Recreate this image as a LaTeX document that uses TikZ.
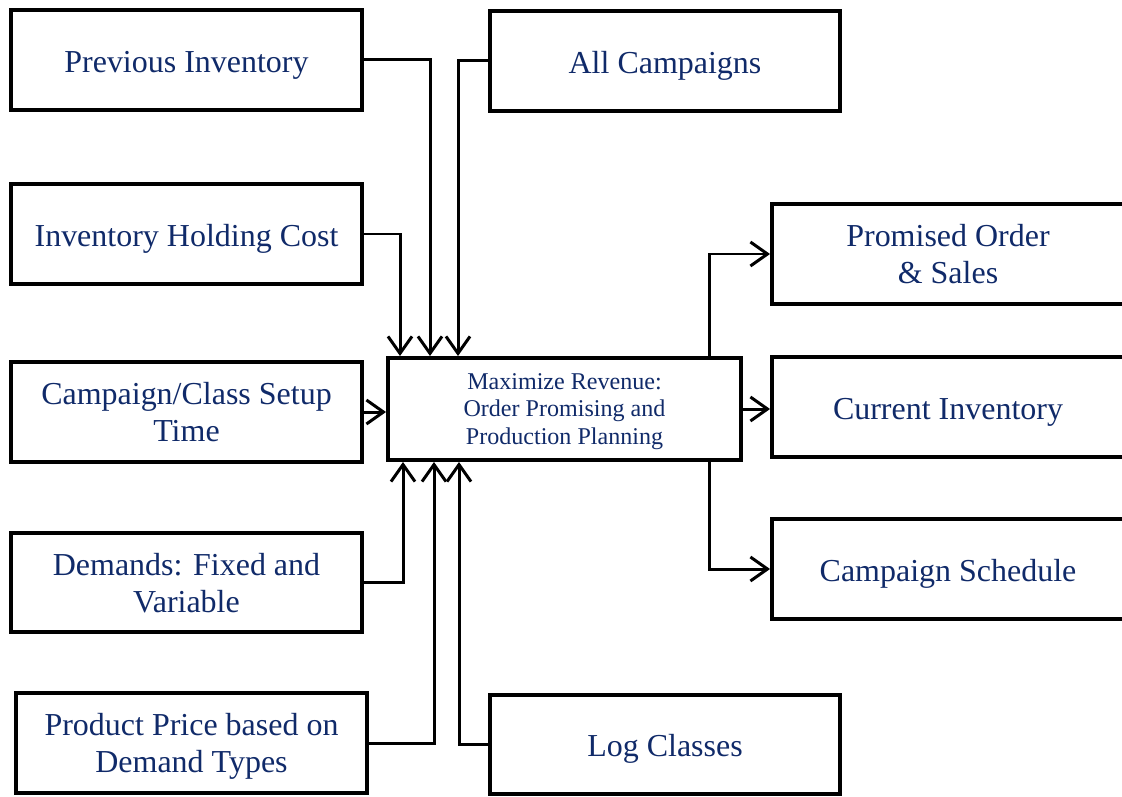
\documentclass[tikz,border=0pt]{standalone}
\usepackage{fontspec}
\setmainfont{Liberation Serif}
\usetikzlibrary{arrows.meta, positioning, calc}
\definecolor{textc}{RGB}{16,42,105}
\tikzset{
  box/.style={draw, line width=0.08cm, minimum width=7.02cm, minimum height=2cm,
    align=center, text=textc, inner sep=2pt, text depth=0pt,
    font=\fontsize{18.2}{21}\selectfont},
  % one line of text sits a little low in its box
  oneline/.style={text height=14.7pt, text depth=1pt},
  corebox/.style={box, minimum width=7.06cm, minimum height=2.04cm,
    font=\fontsize{13.7}{15.4}\selectfont},
  conn/.style={line width=0.06cm,
    -{Straight Barb[length=0.34cm, width=0.48cm, line width=0.06cm]}},
}

\begin{document}
\begin{tikzpicture}[x=0.02cm, y=-0.02cm]
  \useasboundingbox (0,0) rectangle (1122,797);

  % model in the middle
  \node[corebox] (core) at (564.5,409) {Maximize Revenue:\\Order Promising and\\Production Planning};

  % inputs
  \node[box, oneline] (prev) at (186.5,60) {Previous Inventory};
  \node[box, oneline] (camps) at (665,61) {All Campaigns};
  \node[box, oneline] (hold) at (186.5,234) {Inventory Holding Cost};
  \node[box] (setup) at (186.5,412) {Campaign/Class Setup\\Time};
  \node[box] (demand) at (186.5,582.5) {Demands: Fixed and\\Variable};
  \node[box] (price) at (191.5,743) {Product Price based on\\Demand Types};
  \node[box, oneline] (logc) at (665,744.5) {Log Classes};

  % outputs
  \node[box, minimum width=7.04cm] (promised) at (948,254) {Promised Order\\\& Sales};
  \node[box, oneline, minimum width=7.04cm] (current) at (948,407) {Current Inventory};
  \node[box, oneline, minimum width=7.04cm] (sched) at (948,569) {Campaign Schedule};

  % arrows into the model
  \draw[conn] (prev.east) -| (430,0 |- core.north);
  \draw[conn] (camps.west) -| (458,0 |- core.north);
  \draw[conn] (hold.east) -| (400,0 |- core.north);
  \draw[conn] (setup.east) -- (setup.east -| core.west);
  \draw[conn] (demand.east) -| (403,0 |- core.south);
  \draw[conn] (price.east) -| (434,0 |- core.south);
  \draw[conn] (logc.west) -| (459,0 |- core.south);

  % arrows out of the model
  \draw[conn] (709,0 |- core.north) |- (promised.west);
  \draw[conn] (core.east) -- (core.east -| current.west);
  \draw[conn] (709,0 |- core.south) |- (sched.west);
\end{tikzpicture}
\end{document}
